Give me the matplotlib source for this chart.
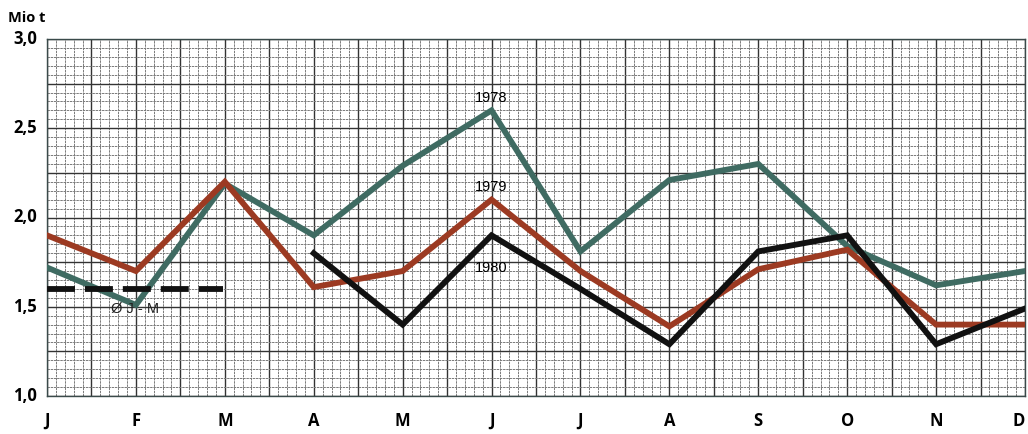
import matplotlib
matplotlib.use("Agg")
import matplotlib.pyplot as plt
import numpy as np
from matplotlib.ticker import MultipleLocator

months = ["J", "F", "M", "A", "M", "J", "J", "A", "S", "O", "N", "D"]
v1978 = [1.72, 1.51, 2.19, 1.90, 2.29, 2.60, 1.81, 2.21, 2.30, 1.84, 1.62, 1.70]
v1979 = [1.90, 1.70, 2.20, 1.61, 1.70, 2.10, 1.70, 1.39, 1.71, 1.82, 1.40, 1.40]
m1980 = ["A", "M", "J", "J", "A", "S", "O", "N", "D"]
v1980 = [1.80, 1.40, 1.90, 1.60, 1.29, 1.81, 1.90, 1.29, 1.49]
avg_jm = 1.60
yticks = [1.0, 1.5, 2.0, 2.5, 3.0]
ytick_labels = ["1,0", "1,5", "2,0", "2,5", "3,0"]

fig = plt.figure(figsize=(10.28, 4.34), dpi=100)
ax = fig.add_axes([47/1028, 38/434, (1025-47)/1028, (396-39)/434])

x = np.arange(len(months))
x80 = np.arange(3, 3 + len(v1980))

ax.set_xlim(0, 11)
ax.set_ylim(1.0, 3.0)

# graph-paper grid
ax.xaxis.set_major_locator(MultipleLocator(0.5))
ax.xaxis.set_minor_locator(MultipleLocator(0.1))
ax.yaxis.set_major_locator(MultipleLocator(0.25))
ax.yaxis.set_minor_locator(MultipleLocator(0.05))
ax.grid(which="minor", color="#7a7a7a", lw=0.7, ls=(0, (2.5, 0.8)))
ax.grid(which="major", color="#333333", lw=1.0)
ax.set_axisbelow(True)
ax.tick_params(which="both", length=0)
ax.set_xticklabels([])
ax.set_yticklabels([])
for s in ax.spines.values():
    s.set_color("#3a4a4a")
    s.set_linewidth(1.0)

c78 = "#3f6b62"
c79 = "#9c3a22"
c80 = "#111111"
ax.plot(x, v1978, color=c78, lw=4.2, solid_joinstyle="miter", zorder=3)
ax.plot(x, v1979, color=c79, lw=4.2, solid_joinstyle="miter", zorder=4)
ax.plot(x80, v1980, color=c80, lw=4.2, solid_joinstyle="miter", zorder=5)
ax.plot([0, 1.98], [avg_jm, avg_jm], color=c80, lw=4.2, ls=(0, (4.8, 1.7)),
        dash_capstyle="butt", zorder=5)

lab_kw = dict(ha="center", va="bottom", fontsize=10.5, family="Liberation Sans", zorder=6)
ax.text(5, 2.63, "1978", **lab_kw)
ax.text(5, 2.13, "1979", **lab_kw)
ax.text(5, 1.68, "1980", **lab_kw)
ax.text(0.72, 1.49, "Ø J - M", ha="left", va="center", fontsize=10.5,
        family="Liberation Sans", color="#222", zorder=6)

# month labels
for i, (xi, m) in enumerate(zip(x, months)):
    xpos = xi - 0.07 if i == len(months) - 1 else xi
    ax.text(xpos, -0.07, m, transform=ax.get_xaxis_transform(), ha="center", va="center",
            fontsize=12, fontweight="bold", family="Open Sans", clip_on=False)
for yv, lab in zip(yticks, ytick_labels):
    ax.text(-0.01, yv, lab, transform=ax.get_yaxis_transform(), ha="right", va="center",
            fontsize=12, fontweight="bold", family="Open Sans", clip_on=False)
fig.text(8/1028, 1 - 18/434, "Mio t", ha="left", va="center", fontsize=10.5,
         fontweight="bold", family="Open Sans")

fig.savefig("out.png", dpi=100)
